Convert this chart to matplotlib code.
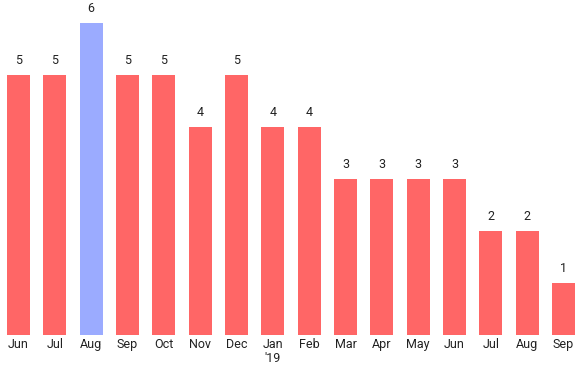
import matplotlib.pyplot as plt

plt.rcParams['font.family'] = ['Roboto', 'DejaVu Sans']

months = ['Jun', 'Jul', 'Aug', 'Sep', 'Oct', 'Nov', 'Dec', "Jan\n'19",
          'Feb', 'Mar', 'Apr', 'May', 'Jun', 'Jul', 'Aug', 'Sep']
counts = [5, 5, 6, 5, 5, 4, 5, 4, 4, 3, 3, 3, 3, 2, 2, 1]
highlight = 2  # Aug

red = '#FF6666'
blue = '#9BABFF'
colors = [blue if i == highlight else red for i in range(len(counts))]

fig = plt.figure(figsize=(5.83, 3.66), dpi=100)
ax = fig.add_axes([0, 31 / 366, 1, 335 / 366])

x = list(range(len(counts)))
bars = ax.bar(x, counts, width=0.63, color=colors)

for xi, v in zip(x, counts):
    ax.annotate(str(v), (xi, v), xytext=(0, 6), textcoords='offset points',
                ha='center', va='bottom', fontsize=9, color='#222222')

ax.set_xlim(-18.5 / 36.33, (583 - 18.5) / 36.33)
ax.set_ylim(0, 335 / 52)
ax.set_xticks(x)
ax.set_xticklabels(months, fontsize=9, color='#222222', linespacing=1.1)
ax.tick_params(axis='x', length=0, pad=2)
ax.set_yticks([])
for s in ax.spines.values():
    s.set_visible(False)

fig.savefig('out.png', dpi=100)
